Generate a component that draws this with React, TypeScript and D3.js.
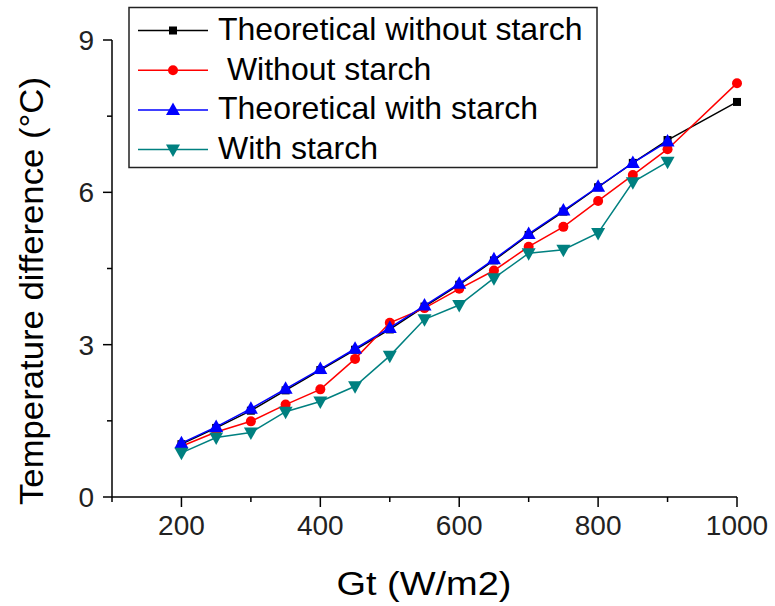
import { useEffect, useRef } from "react";
import * as d3 from "d3";

const irradiance = [200, 250, 300, 350, 400, 450, 500, 550, 600, 650, 700, 750, 800, 850, 900, 1000];

const theoreticalWithout = [1.04, 1.36, 1.7, 2.1, 2.5, 2.9, 3.3, 3.75, 4.18, 4.66, 5.16, 5.62, 6.1, 6.58, 7.03, 7.78];
const withoutStarch = [1.0, 1.28, 1.49, 1.82, 2.12, 2.72, 3.43, 3.72, 4.1, 4.46, 4.93, 5.32, 5.83, 6.34, 6.85, 8.15];
const theoreticalWith = [1.06, 1.38, 1.74, 2.13, 2.52, 2.92, 3.33, 3.77, 4.2, 4.68, 5.18, 5.64, 6.11, 6.58, 7.0];
const withStarch = [0.87, 1.17, 1.27, 1.68, 1.88, 2.18, 2.78, 3.5, 3.78, 4.31, 4.8, 4.87, 5.2, 6.2, 6.6];

const seriesNames = ["Theoretical without starch", " Without starch", "Theoretical with starch", "With starch"];
const seriesColors = ["#000000", "#ff0000", "#0000ff", "#008080"];
const seriesMarkers = ["square", "circle", "triangleUp", "triangleDown"];
const seriesValues = [theoreticalWithout, withoutStarch, theoreticalWith, withStarch];

const xMajorTicks = [200, 400, 600, 800, 1000];
const xMinorTicks = [100, 300, 500, 700, 900];
const yMajorTicks = [0, 3, 6, 9];
const yMinorTicks = [1.5, 4.5, 7.5];

const W = 775;
const H = 606;
const FONT = "'Liberation Sans', Arial, sans-serif";

function drawMarker(g, kind, cx, cy, color) {
  if (kind === "square") {
    g.append("rect").attr("x", cx - 4).attr("y", cy - 4).attr("width", 8).attr("height", 8).attr("fill", color);
  } else if (kind === "circle") {
    g.append("circle").attr("cx", cx).attr("cy", cy).attr("r", 5).attr("fill", color);
  } else if (kind === "triangleUp") {
    g.append("path")
      .attr("d", `M${cx},${cy - 7.5}L${cx + 7},${cy + 5}L${cx - 7},${cy + 5}Z`)
      .attr("fill", color);
  } else {
    g.append("path")
      .attr("d", `M${cx},${cy + 7.5}L${cx + 7},${cy - 5}L${cx - 7},${cy - 5}Z`)
      .attr("fill", color);
  }
}

export default function App() {
  const svgRef = useRef(null);

  useEffect(() => {
    const svg = d3.select(svgRef.current);
    svg.selectAll("*").remove();

    const x = d3.scaleLinear().domain([100, 1000]).range([112, 737]);
    const y = d3.scaleLinear().domain([0, 9]).range([497, 40]);

    // axes
    const axes = svg.append("g").attr("stroke", "#000").attr("stroke-width", 1.5);
    axes.append("line").attr("x1", x(100)).attr("x2", x(1000)).attr("y1", y(0)).attr("y2", y(0));
    axes.append("line").attr("x1", x(100)).attr("x2", x(100)).attr("y1", y(0)).attr("y2", y(9));

    xMajorTicks.forEach(t => {
      axes.append("line").attr("x1", x(t)).attr("x2", x(t)).attr("y1", y(0)).attr("y2", y(0) + 10);
    });
    xMinorTicks.forEach(t => {
      axes.append("line").attr("x1", x(t)).attr("x2", x(t)).attr("y1", y(0)).attr("y2", y(0) + 5);
    });
    yMajorTicks.forEach(t => {
      axes.append("line").attr("x1", x(100) - 9).attr("x2", x(100)).attr("y1", y(t)).attr("y2", y(t));
    });
    yMinorTicks.forEach(t => {
      axes.append("line").attr("x1", x(100) - 5).attr("x2", x(100)).attr("y1", y(t)).attr("y2", y(t));
    });

    svg.append("g")
      .selectAll("text")
      .data(xMajorTicks)
      .enter()
      .append("text")
      .attr("x", d => x(d))
      .attr("y", 535)
      .attr("text-anchor", "middle")
      .attr("font-family", FONT)
      .attr("font-size", 28)
      .attr("fill", "#222")
      .text(d => d);

    svg.append("g")
      .selectAll("text")
      .data(yMajorTicks)
      .enter()
      .append("text")
      .attr("x", 94)
      .attr("y", d => y(d) + 10)
      .attr("text-anchor", "end")
      .attr("font-family", FONT)
      .attr("font-size", 28)
      .attr("fill", "#222")
      .text(d => d);

    svg.append("text")
      .attr("x", 424)
      .attr("y", 595)
      .attr("text-anchor", "middle")
      .attr("font-family", FONT)
      .attr("font-size", 33)
      .attr("textLength", 175)
      .attr("lengthAdjust", "spacingAndGlyphs")
      .text("Gt (W/m2)");

    svg.append("text")
      .attr("transform", "translate(43,291) rotate(-90)")
      .attr("text-anchor", "middle")
      .attr("font-family", FONT)
      .attr("font-size", 34)
      .attr("textLength", 428)
      .attr("lengthAdjust", "spacingAndGlyphs")
      .text("Temperature difference (\u00B0C)");

    // series
    const line = d3.line().x(d => x(d[0])).y(d => y(d[1]));
    seriesValues.forEach((vals, i) => {
      const pts = vals.map((v, j) => [irradiance[j], v]);
      const g = svg.append("g");
      g.append("path")
        .attr("d", line(pts))
        .attr("fill", "none")
        .attr("stroke", seriesColors[i])
        .attr("stroke-width", 1.5);
      pts.forEach(p => drawMarker(g, seriesMarkers[i], x(p[0]), y(p[1]), seriesColors[i]));
    });

    // legend
    const lg = svg.append("g");
    lg.append("rect")
      .attr("x", 129)
      .attr("y", 7.5)
      .attr("width", 468)
      .attr("height", 160)
      .attr("fill", "none")
      .attr("stroke", "#222")
      .attr("stroke-width", 1.5);
    seriesNames.forEach((name, i) => {
      const base = 40 + i * 39.7;
      const ly = base - 9.5;
      lg.append("line")
        .attr("x1", 138)
        .attr("x2", 208)
        .attr("y1", ly)
        .attr("y2", ly)
        .attr("stroke", seriesColors[i])
        .attr("stroke-width", 1.5);
      drawMarker(lg, seriesMarkers[i], 173, ly, seriesColors[i]);
      lg.append("text")
        .attr("x", 218)
        .attr("y", base)
        .attr("font-family", FONT)
        .attr("font-size", 32)
        .attr("fill", "#000")
        .attr("xml:space", "preserve")
        .style("white-space", "pre")
        .text(name);
    });
  }, []);

  return (
    <svg
      ref={svgRef}
      width={W}
      height={H}
      viewBox={`0 0 ${W} ${H}`}
      style={{ position: "absolute", left: 0, top: 0, background: "#fff" }}
    />
  );
}
